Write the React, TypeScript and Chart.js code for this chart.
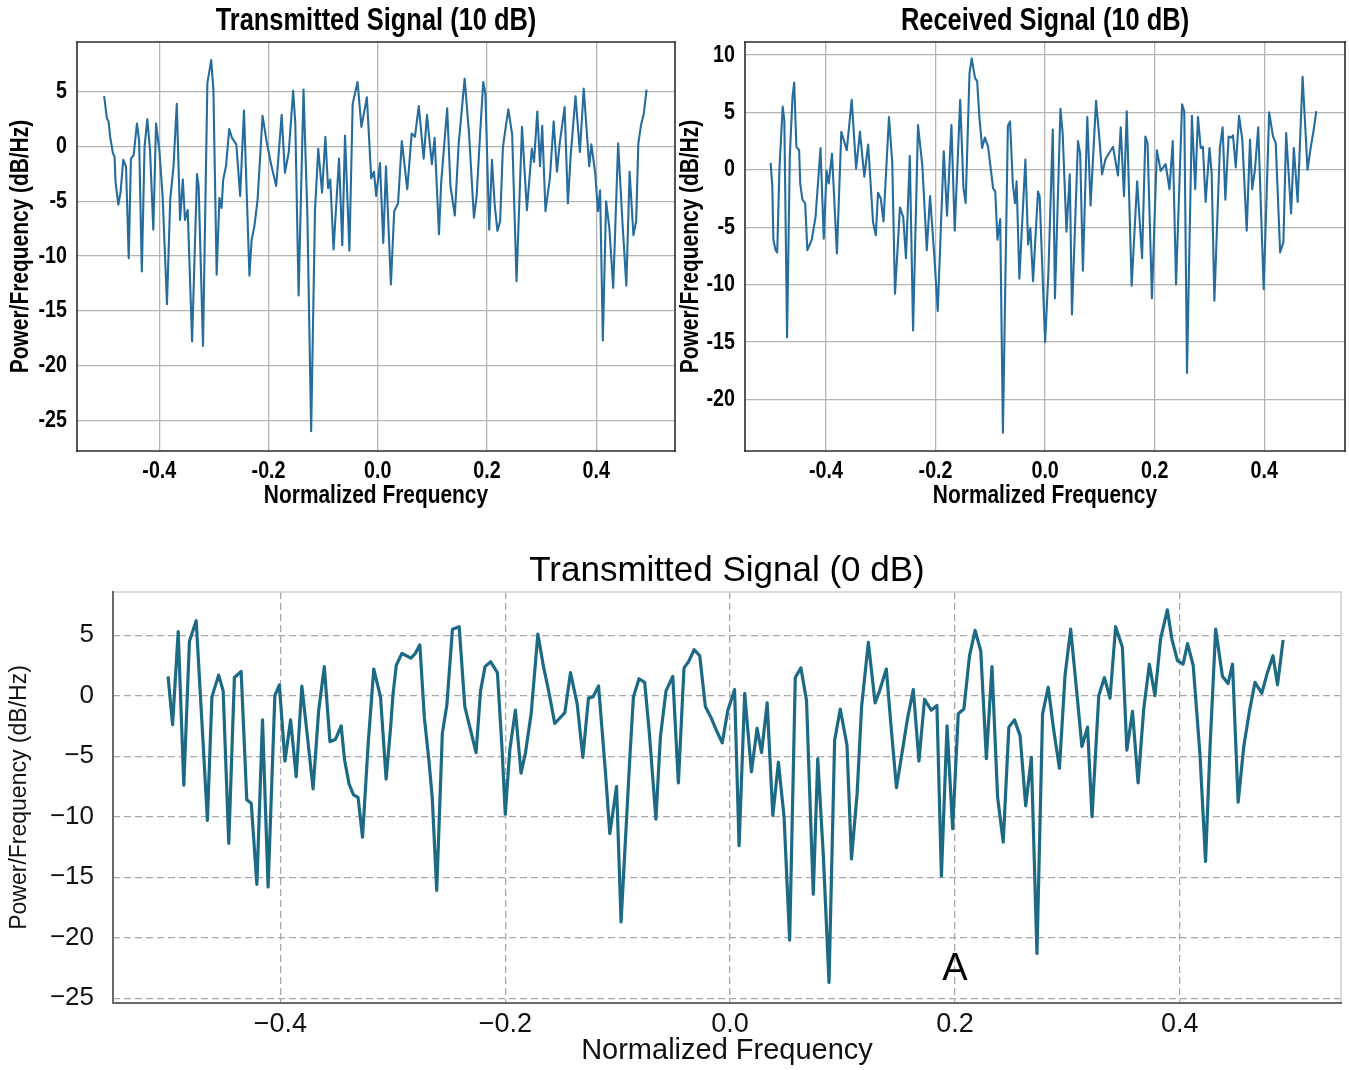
import React, { useEffect, useRef } from "react";
import { Chart, registerables } from "chart.js";

Chart.register(...registerables);

// ---------- Transmitted Signal (10 dB) ----------
const TL_FREQ = [
  -0.501, -0.496, -0.493, -0.49, -0.485, -0.482, -0.48, -0.475, -0.471, -0.466,
  -0.461, -0.456, -0.452, -0.447, -0.441, -0.437, -0.432, -0.427, -0.422, -0.417,
  -0.411, -0.406, -0.4, -0.394, -0.386, -0.38, -0.374, -0.368, -0.362, -0.357,
  -0.353, -0.348, -0.34, -0.331, -0.328, -0.32, -0.312, -0.305, -0.301, -0.295,
  -0.29, -0.286, -0.283, -0.278, -0.272, -0.267, -0.259, -0.252, -0.245, -0.235,
  -0.231, -0.226, -0.22, -0.211, -0.203, -0.195, -0.186,
  -0.176, -0.17, -0.163, -0.155, -0.151, -0.145, -0.136, -0.129, -0.122, -0.115,
  -0.109, -0.102, -0.096, -0.091, -0.087, -0.081, -0.071, -0.065, -0.06, -0.052,
  -0.046, -0.037, -0.03, -0.02, -0.012, -0.007, -0.003, 0.004, 0.01, 0.015,
  0.024, 0.03, 0.037, 0.044, 0.054, 0.062, 0.068, 0.075, 0.084, 0.09,
  0.099, 0.104, 0.112, 0.116, 0.127, 0.133, 0.141, 0.148, 0.159, 0.167,
  0.176,
  0.181, 0.187, 0.193, 0.197, 0.204, 0.209, 0.214, 0.219, 0.224, 0.229,
  0.234, 0.239, 0.246, 0.254, 0.264, 0.273, 0.282, 0.286, 0.292, 0.297,
  0.301, 0.307, 0.315, 0.322, 0.328, 0.333, 0.342, 0.348, 0.353, 0.362,
  0.37, 0.377, 0.387, 0.391, 0.398, 0.403, 0.407, 0.412, 0.418, 0.424,
  0.431, 0.44, 0.448, 0.455, 0.461, 0.468, 0.473, 0.477, 0.482, 0.487,
  0.492,
];
const TL_PSD = [
  4.6, 2.6, 2.3, 0.9, -0.6, -0.9, -3.3, -5.3, -4.2, -1.2,
  -1.8, -10.2, -1.1, -0.8, 2.1, 0.6, -11.4, 0.0, 2.5, -0.3,
  -7.6, 2.1, -0.3, -4.5, -14.4, -4.8, -1.8, 3.9, -6.7, -3.0,
  -6.7, -5.8, -17.8, -2.5, -3.6, -18.2, 5.8, 7.9, 5.2, -11.7,
  -4.7, -5.6, -3.0, -1.8, 1.6, 0.8, 0.2, -4.5, 3.3, -11.8,
  -8.5, -7.3, -4.8, 2.8, 0.3, -1.7, -3.6,
  2.9, -2.4, -0.5, 5.1, 2.1, -13.6, 5.2, -6.1, -26.0, -5.8,
  -0.2, -4.2, 0.9, -3.8, -3.0, -9.4, -1.1, -9.0, 1.0, -9.5,
  3.9, 5.9, 1.8, 4.5, -2.9, -2.3, -4.5, -1.5, -8.8, -1.8,
  -12.6, -5.9, -5.2, 0.5, -3.9, 1.2, 0.9, 3.7, -1.1, 2.9,
  -1.6, 0.8, -8.0, -3.3, 3.5, -3.6, -6.3, 0.2, 6.2, 1.2,
  -6.5,
  -4.5, 0.9, 5.9, 4.8, -7.6, -1.2, -5.3, -7.7, -6.8, -0.1,
  1.7, 3.4, 1.1, -12.3, 1.8, -5.8, -0.2, -1.4, 3.2, -1.8,
  1.9, -5.9, -2.9, 2.3, -2.3, 0.3, 3.6, -5.2, -0.9, 4.6,
  -0.5, 5.3, -1.8, 0.2, -2.4, -5.9, -4.0, -17.7, -5.0, -7.5,
  -12.9, 0.3, -7.0, -12.7, -2.3, -8.1, -6.8, 0.3, 2.0, 3.0,
  5.2,
];

// ---------- Received Signal (10 dB) ----------
const TR_FREQ = [
  -0.501, -0.498, -0.496, -0.492, -0.489, -0.485, -0.479, -0.476, -0.471, -0.466,
  -0.461, -0.458, -0.454, -0.449, -0.447, -0.443, -0.438, -0.434, -0.426, -0.419,
  -0.41, -0.404, -0.399, -0.395, -0.389, -0.38, -0.372, -0.362, -0.353, -0.345,
  -0.338, -0.33, -0.323, -0.314, -0.309, -0.305, -0.3, -0.295, -0.285, -0.279,
  -0.274, -0.265, -0.259, -0.254, -0.247, -0.241, -0.232, -0.224, -0.216, -0.21,
  -0.202, -0.196, -0.185,
  -0.179, -0.171, -0.165, -0.155, -0.149, -0.145, -0.138, -0.134, -0.128, -0.124,
  -0.12, -0.115, -0.11, -0.104, -0.095, -0.091, -0.087, -0.082, -0.077, -0.068,
  -0.064, -0.059, -0.055, -0.052, -0.047, -0.036, -0.031, -0.027, -0.022, -0.013,
  -0.01, 0.0, 0.006, 0.014, 0.018, 0.028, 0.032, 0.039, 0.045, 0.049,
  0.06, 0.064, 0.069, 0.077, 0.083, 0.093, 0.099, 0.104, 0.11, 0.116,
  0.124, 0.133, 0.138, 0.144, 0.149, 0.158, 0.168, 0.177,
  0.183, 0.187, 0.195, 0.204, 0.211, 0.22, 0.227, 0.233, 0.239, 0.25,
  0.254, 0.259, 0.268, 0.274, 0.279, 0.284, 0.288, 0.293, 0.3, 0.304,
  0.309, 0.319, 0.324, 0.329, 0.335, 0.34, 0.343, 0.348, 0.354, 0.36,
  0.368, 0.374, 0.378, 0.383, 0.389, 0.399, 0.409, 0.416, 0.421, 0.429,
  0.435, 0.44, 0.449, 0.454, 0.461, 0.47, 0.479, 0.485, 0.49, 0.495,
];
const TR_PSD = [
  0.6, -1.4, -6.1, -7.0, -7.2, 0.0, 5.5, 4.3, -14.6, 1.2,
  6.4, 7.6, 2.0, 1.7, -1.2, -2.6, -2.9, -7.0, -6.1, -4.1,
  1.9, -6.0, -0.1, -1.2, 1.4, -7.3, 3.3, 1.7, 6.1, 0.1,
  3.3, -0.6, 2.2, -4.6, -5.7, -2.0, -2.5, -4.5, 4.6, 0.6,
  -10.8, -3.3, -4.1, -7.7, 1.2, -14.0, 3.9, 0.3, -7.0, -2.3,
  -7.7, -12.3, 1.6,
  -4.0, 3.9, -5.3, 6.1, -1.6, -2.9, 8.4, 9.7, 8.0, 7.7,
  4.6, 1.9, 2.8, 2.0, -1.6, -1.9, -6.1, -4.3, -22.9, 3.8,
  4.2, -1.2, -2.9, -1.0, -9.5, 0.9, -6.5, -5.1, -9.7, -1.9,
  -2.3, -15.0, -9.0, 3.5, -11.2, 5.3, 3.2, -5.4, -0.4, -12.6,
  2.5, 1.4, -8.8, 4.6, -3.1, 6.0, 2.8, -0.4, 0.9, 1.4,
  2.0, -0.5, 3.7, -2.3, 5.1, -10.1, -1.0, -7.7,
  2.9, 2.3, -11.2, 1.7, -0.1, 0.5, -1.7, 2.5, -10.0, 5.7,
  5.1, -17.7, 4.7, -1.7, 4.6, 1.9, 2.0, -2.8, 1.9, -0.3,
  -11.4, 1.9, 3.7, -2.6, 2.9, 2.8, 3.0, 0.2, 4.7, 2.6,
  -5.3, 2.6, -1.7, 0.0, 3.7, -10.4, 5.0, 2.9, 2.3, -7.2,
  -6.3, 3.2, -3.8, 1.9, -2.8, 8.1, 0.0, 2.0, 3.4, 5.1,
];

// ---------- Transmitted Signal (0 dB) ----------
const B_FREQ = [
  -0.5, -0.496, -0.491, -0.486, -0.481, -0.475, -0.47, -0.465, -0.461, -0.455,
  -0.451, -0.446, -0.441, -0.435, -0.43, -0.426, -0.421, -0.416, -0.411, -0.405,
  -0.401, -0.396, -0.391, -0.386, -0.381, -0.376, -0.371, -0.366, -0.361, -0.356,
  -0.351, -0.346, -0.343, -0.339, -0.335, -0.331, -0.327,
  -0.322, -0.317, -0.311, -0.306, -0.302, -0.3, -0.297, -0.292, -0.288, -0.284,
  -0.28, -0.276, -0.272, -0.268, -0.265, -0.261, -0.256, -0.252, -0.247, -0.241,
  -0.236, -0.231, -0.226, -0.222, -0.218, -0.213, -0.207, -0.203, -0.2, -0.196,
  -0.191, -0.186, -0.182, -0.177, -0.171, -0.166, -0.161, -0.156, -0.151, -0.147,
  -0.142, -0.136, -0.131, -0.126, -0.122, -0.117, -0.111, -0.107,
  -0.101, -0.097, -0.092, -0.089, -0.086, -0.081, -0.076, -0.072, -0.066, -0.062,
  -0.057, -0.051, -0.046, -0.041, -0.037, -0.032, -0.027, -0.022, -0.017, -0.012,
  -0.007, -0.002, 0.004, 0.008, 0.013, 0.019, 0.024, 0.028, 0.033, 0.038,
  0.043, 0.048, 0.053, 0.058, 0.063, 0.068, 0.074, 0.078, 0.083, 0.088,
  0.093, 0.098, 0.104, 0.108,
  0.113, 0.117, 0.123, 0.129, 0.133, 0.139, 0.143, 0.148, 0.152, 0.158,
  0.163, 0.168, 0.173, 0.179, 0.184, 0.188, 0.193, 0.198, 0.203, 0.208,
  0.213, 0.218, 0.223, 0.228, 0.233, 0.238, 0.243, 0.248, 0.253, 0.258,
  0.263, 0.268, 0.273, 0.278, 0.283, 0.288, 0.293, 0.298, 0.303, 0.308,
  0.313, 0.318, 0.322, 0.328, 0.333,
  0.338, 0.343, 0.349, 0.353, 0.358, 0.363, 0.368, 0.373, 0.378, 0.383,
  0.389, 0.393, 0.398, 0.403, 0.407, 0.412, 0.418, 0.423, 0.427, 0.432,
  0.438, 0.443, 0.447, 0.452, 0.457, 0.462, 0.467, 0.473, 0.478, 0.483,
  0.487, 0.492,
];
const B_PSD = [
  1.6, -2.4, 5.3, -7.4, 4.5, 6.2, -2.0, -10.3, -0.1, 1.7,
  0.4, -12.2, 1.5, 2.0, -8.6, -8.9, -15.6, -2.0, -15.8, 0.0,
  0.9, -5.4, -2.0, -6.7, 0.8, -3.4, -7.7, -1.2, 2.4, -3.8,
  -3.6, -2.5, -5.3, -7.3, -8.2, -8.4, -11.7,
  -4.0, 2.2, -0.1, -6.9, -2.6, 0.0, 2.5, 3.5, 3.3, 3.1,
  3.5, 4.2, -1.8, -5.3, -8.4, -16.1, -3.1, -0.8, 5.5, 5.7,
  -0.9, -2.8, -4.7, 0.4, 2.4, 2.8, 1.9, -4.2, -9.8, -4.5,
  -1.2, -6.4, -4.7, -1.5, 5.1, 2.4, 0.2, -2.3, -1.8, -1.4,
  1.9, -0.7, -5.1, -0.2, -0.1, 0.8, -6.2, -11.4,
  -7.5, -18.7, -10.0, -4.8, -0.1, 1.4, 1.1, -2.9, -10.2, -3.4,
  0.4, 1.6, -7.2, 2.3, 2.8, 3.8, 3.3, -0.9, -1.8, -2.9,
  -3.9, -1.2, 0.5, -12.4, 0.2, -6.3, -2.7, -4.7, -0.6, -9.9,
  -5.5, -10.0, -20.2, 1.5, 2.3, -0.4, -16.4, -5.2, -13.3, -23.7,
  -3.7, -1.1, -4.1, -13.5,
  -8.1, -0.9, 4.4, -0.6, 0.4, 2.2, -2.3, -7.6, -5.3, -1.8,
  0.5, -5.4, -0.3, -1.2, -0.8, -14.9, -2.5, -11.0, -1.5, -1.1,
  3.3, 5.4, 3.7, -5.2, 2.4, -8.4, -12.1, -2.6, -2.0, -3.3,
  -9.1, -5.1, -21.3, -1.5, 0.7, -2.9, -6.0, 1.7, 5.5, 0.7,
  -4.2, -2.6, -10.0, 0.0, 1.5,
  -0.2, 5.7, 4.0, -4.5, -1.3, -7.2, -1.1, 2.6, 0.0, 4.7,
  7.1, 4.7, 2.9, 2.6, 4.3, 2.5, -4.8, -13.7, -4.2, 5.5,
  1.6, 1.0, 2.6, -8.8, -4.2, -1.3, 1.1, 0.2, 1.9, 3.3,
  0.9, 4.6,
];

const TITLES = ["Transmitted Signal (10 dB)", "Received Signal (10 dB)", "Transmitted Signal (0 dB)"];
const X_LABEL = "Normalized Frequency";
const Y_LABEL = "Power/Frequency (dB/Hz)";
const NOTE_TEXT = "A";
const NOTE_AT = { x: 0.2, y: -22.6 };

const SANS = "'Liberation Sans', Arial, Helvetica, sans-serif";

function drawText(
  ctx: CanvasRenderingContext2D,
  text: string,
  x: number,
  y: number,
  font: string,
  align: CanvasTextAlign,
  sx: number,
  rotate = false
) {
  ctx.save();
  ctx.translate(x, y);
  if (rotate) ctx.rotate(-Math.PI / 2);
  ctx.scale(sx, 1);
  ctx.font = font;
  ctx.textAlign = align;
  ctx.textBaseline = "middle";
  ctx.fillText(text, 0, 0);
  ctx.restore();
}

const overlayPlugin = {
  id: "overlay",
  afterDatasetsDraw(chart: any, _args: any, opts: any) {
    const { ctx, chartArea: a } = chart;
    ctx.save();
    const f = opts.frame;
    const sides: [string, number, number, number, number][] = [
      ["top", a.left, a.top, a.right, a.top],
      ["right", a.right, a.top, a.right, a.bottom],
      ["bottom", a.left, a.bottom, a.right, a.bottom],
      ["left", a.left, a.top, a.left, a.bottom],
    ];
    for (const [k, x1, y1, x2, y2] of sides) {
      const s = f[k];
      ctx.beginPath();
      ctx.strokeStyle = s.color;
      ctx.lineWidth = s.width;
      ctx.lineCap = "square";
      ctx.moveTo(x1, y1);
      ctx.lineTo(x2, y2);
      ctx.stroke();
    }
    ctx.fillStyle = "#000";
    const sx = opts.sx || 1;
    drawText(ctx, opts.title, (a.left + a.right) / 2, a.top - opts.titleOffset, opts.titleFont, "center", sx);
    const t = opts.axisText;
    if (t) {
      const xs = chart.scales.x;
      const ys = chart.scales.y;
      for (const tk of xs.ticks) {
        drawText(ctx, Number(tk.value).toFixed(1), xs.getPixelForValue(tk.value), a.bottom + t.xTickDy, t.tickFont, "center", sx);
      }
      for (const tk of ys.ticks) {
        drawText(ctx, String(tk.value), a.left - t.yTickGap, ys.getPixelForValue(tk.value), t.tickFont, "right", sx);
      }
      drawText(ctx, t.xLabel, (a.left + a.right) / 2, a.bottom + t.xLabelDy, t.labelFont, "center", sx);
      drawText(ctx, t.yLabel, a.left - t.yLabelDx, (a.top + a.bottom) / 2, t.labelFont, "center", sx, true);
    }
    for (const n of opts.notes || []) {
      drawText(ctx, n.text, chart.scales.x.getPixelForValue(n.x), chart.scales.y.getPixelForValue(n.y), n.font, "center", 1);
    }
    ctx.restore();
  },
};

type PanelSpec = {
  left: number;
  top: number;
  width: number;
  height: number;
  config: () => any;
};

function Panel({ spec }: { spec: PanelSpec }) {
  const ref = useRef<HTMLCanvasElement | null>(null);
  useEffect(() => {
    if (!ref.current) return;
    const chart = new Chart(ref.current, spec.config());
    return () => chart.destroy();
  }, [spec]);
  return (
    <canvas
      ref={ref}
      width={spec.width}
      height={spec.height}
      style={{ position: "absolute", left: spec.left, top: spec.top, width: spec.width, height: spec.height }}
    />
  );
}

function topConfig(
  freq: number[],
  psd: number[],
  title: string,
  xr: [number, number],
  yr: [number, number],
  axisW: number,
  padRight: number,
  yLabelDx: number
) {
  return {
    type: "line",
    data: {
      datasets: [
        {
          data: freq.map((f, i) => ({ x: f, y: psd[i] })),
          borderColor: "#266d9d",
          borderWidth: 2.1,
          pointRadius: 0,
          fill: false,
          tension: 0,
          borderJoinStyle: "round",
        },
      ],
    },
    options: {
      responsive: false,
      animation: false,
      events: [],
      layout: { padding: { top: 42, right: padRight, left: 0, bottom: 0 } },
      plugins: {
        legend: { display: false },
        tooltip: { enabled: false },
        title: { display: false },
        overlay: {
          title,
          sx: 0.82,
          titleFont: `bold 31px ${SANS}`,
          titleOffset: 21,
          frame: {
            top: { color: "#2b2b2b", width: 1.6 },
            right: { color: "#2b2b2b", width: 1.6 },
            bottom: { color: "#2b2b2b", width: 1.6 },
            left: { color: "#2b2b2b", width: 1.6 },
          },
          axisText: {
            tickFont: `bold 24px ${SANS}`,
            labelFont: `bold 25.5px ${SANS}`,
            xLabel: X_LABEL,
            yLabel: Y_LABEL,
            xTickDy: 20,
            yTickGap: 10,
            xLabelDy: 45,
            yLabelDx,
          },
        },
      },
      scales: {
        x: {
          type: "linear",
          min: xr[0],
          max: xr[1],
          afterFit: (s: any) => {
            s.height = 69;
          },
          ticks: { display: false, stepSize: 0.2, includeBounds: false, autoSkip: false, maxRotation: 0 },
          grid: { color: "#b4b4b4", lineWidth: 1.3, drawTicks: false },
          border: { display: false },
          title: { display: false },
        },
        y: {
          type: "linear",
          min: yr[0],
          max: yr[1],
          afterFit: (s: any) => {
            s.width = axisW;
          },
          ticks: { display: false, stepSize: 5, includeBounds: false },
          grid: { color: "#b4b4b4", lineWidth: 1.3, drawTicks: false },
          border: { display: false },
          title: { display: false },
        },
      },
    },
    plugins: [overlayPlugin],
  };
}

function bottomConfig() {
  const minus = (s: string) => s.replace("-", "\u2212");
  return {
    type: "line",
    data: {
      datasets: [
        {
          data: B_FREQ.map((f, i) => ({ x: f, y: B_PSD[i] })),
          borderColor: "#1d6a85",
          borderWidth: 3.2,
          pointRadius: 0,
          fill: false,
          tension: 0,
          borderJoinStyle: "round",
        },
      ],
    },
    options: {
      responsive: false,
      animation: false,
      events: [],
      layout: { padding: { top: 52, right: 8, left: 0, bottom: 0 } },
      plugins: {
        legend: { display: false },
        tooltip: { enabled: false },
        title: { display: false },
        overlay: {
          title: TITLES[2],
          sx: 1,
          titleFont: `35px ${SANS}`,
          titleOffset: 21,
          frame: {
            top: { color: "#cfcfcf", width: 1.5 },
            right: { color: "#cfcfcf", width: 1.5 },
            bottom: { color: "#6a6a6a", width: 2 },
            left: { color: "#6a6a6a", width: 2 },
          },
          notes: [{ text: NOTE_TEXT, x: NOTE_AT.x, y: NOTE_AT.y, font: `38px ${SANS}` }],
        },
      },
      scales: {
        x: {
          type: "linear",
          min: -0.549,
          max: 0.5435,
          afterFit: (s: any) => {
            s.height = 67;
          },
          ticks: {
            stepSize: 0.2,
            includeBounds: false,
            autoSkip: false,
            maxRotation: 0,
            padding: 5,
            color: "#111",
            font: { family: SANS, size: 27 },
            callback: (v: any) => minus(Number(v).toFixed(1)),
          },
          grid: { color: "#a8a8a8", lineWidth: 1.3, drawTicks: false },
          border: { display: false, dash: [7, 4] },
          title: {
            display: true,
            text: X_LABEL,
            color: "#111",
            font: { family: SANS, size: 29 },
            padding: { top: 0, bottom: 2 },
          },
        },
        y: {
          type: "linear",
          min: -25.4,
          max: 8.57,
          afterFit: (s: any) => {
            s.width = 113;
          },
          ticks: {
            stepSize: 5,
            includeBounds: false,
            padding: 19,
            color: "#111",
            font: { family: SANS, size: 26 },
            callback: (v: any) => minus(String(v)),
          },
          grid: { color: "#a8a8a8", lineWidth: 1.3, drawTicks: false },
          border: { display: false, dash: [7, 4] },
          title: {
            display: true,
            text: Y_LABEL,
            color: "#111",
            font: { family: SANS, size: 23 },
            padding: { top: 6, bottom: 0 },
          },
        },
      },
    },
    plugins: [overlayPlugin],
  };
}

const PANELS: PanelSpec[] = [
  {
    left: 0,
    top: 0,
    width: 680,
    height: 520,
    config: () => topConfig(TL_FREQ, TL_PSD, TITLES[0], [-0.5507, 0.5441], [-27.8, 9.55], 77, 5, 56.5),
  },
  {
    left: 670,
    top: 0,
    width: 679,
    height: 520,
    config: () => topConfig(TR_FREQ, TR_PSD, TITLES[1], [-0.5478, 0.5474], [-24.5, 11.13], 75, 4, 54),
  },
  {
    left: 0,
    top: 540,
    width: 1349,
    height: 530,
    config: bottomConfig,
  },
];

export default function App() {
  return (
    <div style={{ position: "absolute", left: 0, top: 0, width: 1349, height: 1070, background: "#fff", overflow: "hidden" }}>
      {PANELS.map((p, i) => (
        <Panel key={i} spec={p} />
      ))}
    </div>
  );
}
